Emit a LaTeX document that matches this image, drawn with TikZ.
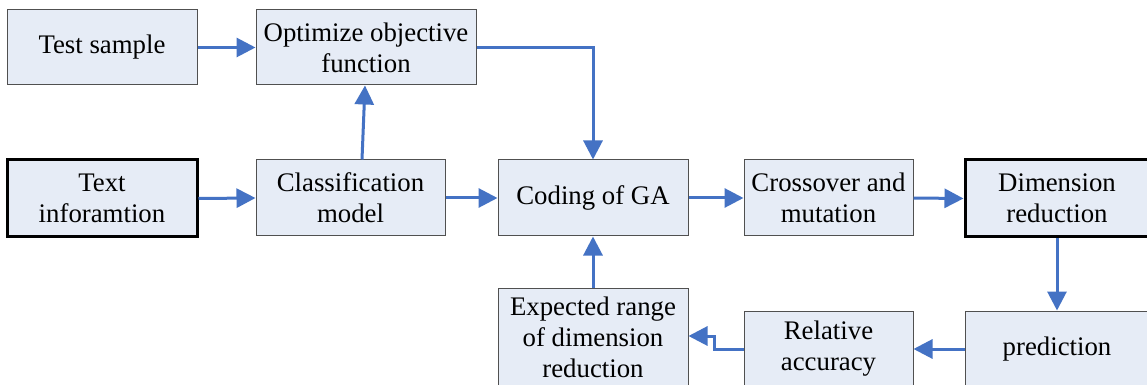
\documentclass[tikz,border=0pt]{standalone}
\usepackage{fontspec}
\setmainfont{Liberation Serif}
\usetikzlibrary{arrows.meta,calc}
\definecolor{boxfill}{RGB}{230,236,246}
\definecolor{boxline}{RGB}{80,80,80}
\definecolor{arrblue}{RGB}{68,114,196}
\begin{document}
\begin{tikzpicture}[x=0.5pt,y=-0.5pt,
  box/.style={draw=boxline, line width=0.5pt, fill=boxfill, inner sep=0pt, align=center,
    font=\fontsize{13.4}{15.5}\selectfont},
  thickbox/.style={box, line width=1.5pt, draw=black},
  arr/.style={draw=arrblue, line width=1.5pt, -{Triangle[length=9.5pt,width=9.5pt]}}]
\path[use as bounding box, clip] (0,0) rectangle (1147,385);
\fill[white] (0,0) rectangle (1147,385);
\node[box, minimum width=95pt, minimum height=37.5pt] (ts) at (102,47.5) {Test sample};
\node[box, minimum width=110pt, minimum height=37.5pt] (opt) at (366,47.5) {Optimize objective\\function};
\node[thickbox, minimum width=95pt, minimum height=38.5pt] (txt) at (102,198.5) {Text\\inforamtion};
\node[box, minimum width=94.5pt, minimum height=38pt] (cls) at (350.5,198) {Classification\\model};
\node[box, minimum width=95pt, minimum height=38pt] (cod) at (593,198) {Coding of GA};
\node[box, minimum width=84.5pt, minimum height=38pt] (cro) at (828.5,198) {Crossover and\\mutation};
\node[thickbox, minimum width=92pt, minimum height=38.5pt] (dim) at (1057,198.5) {Dimension\\reduction};
\node[box, minimum width=92pt, minimum height=38pt] (pre) at (1057,349) {prediction};
\node[box, minimum width=84.5pt, minimum height=38pt] (rel) at (828.5,349) {Relative\\accuracy};
\node[box, minimum width=95pt, minimum height=49.5pt] (exp) at (593,337.5) {Expected range\\of dimension\\reduction};
\draw[arr] (ts.east) -- (opt.west);
\draw[arr] ([xshift=5.75pt]cls.north) -- ([xshift=-0.5pt]opt.south);
\draw[arr] (opt.east) -| (cod.north);
\draw[arr] (txt.east) -- (cls.west);
\draw[arr] (cls.east) -- (cod.west);
\draw[arr] (cod.east) -- (cro.west);
\draw[arr] (cro.east) -- (dim.west);
\draw[arr] (dim.south) -- (pre.north);
\draw[arr] (pre.west) -- (rel.east);
\draw[arr] (rel.west) -- ++(-29,0) |- ([yshift=0.75pt]exp.east);
\draw[arr] (exp.north) -- (cod.south);
\end{tikzpicture}
\end{document}
